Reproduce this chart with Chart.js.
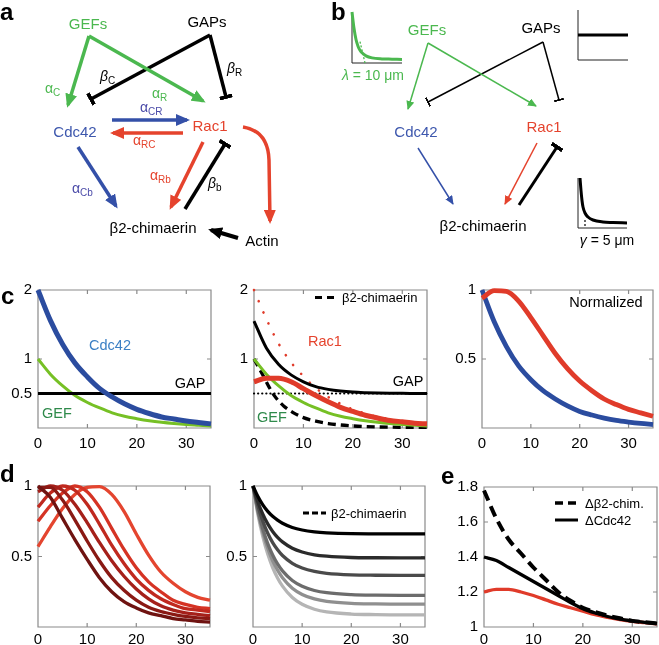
<!DOCTYPE html>
<html>
<head>
<meta charset="utf-8">
<script src="https://cdn.jsdelivr.net/npm/chart.js@4.4.0/dist/chart.umd.min.js"></script>
<style>
body { margin: 0; width: 659px; height: 645px; overflow: hidden; background: #fff; position: relative; font-family: "Liberation Sans", Arial, sans-serif; }
canvas { position: absolute; }
#fig { position: absolute; left: 0; top: 0; z-index: 2; }
</style>
</head>
<body>
<svg id="fig" width="659" height="645" font-family="Liberation Sans, Arial, sans-serif">
<defs>
<marker id="mgA" viewBox="0 0 14 12" refX="11" refY="6" markerWidth="14" markerHeight="12" markerUnits="userSpaceOnUse" orient="auto"><path d="M0,0L14,6L0,12z" fill="#4bb84f"/></marker>
<marker id="mbA" viewBox="0 0 14 12" refX="11" refY="6" markerWidth="14" markerHeight="12" markerUnits="userSpaceOnUse" orient="auto"><path d="M0,0L14,6L0,12z" fill="#3450a8"/></marker>
<marker id="mrA" viewBox="0 0 14 12" refX="11" refY="6" markerWidth="14" markerHeight="12" markerUnits="userSpaceOnUse" orient="auto"><path d="M0,0L14,6L0,12z" fill="#e5432d"/></marker>
<marker id="mkA" viewBox="0 0 14 12" refX="11" refY="6" markerWidth="14" markerHeight="12" markerUnits="userSpaceOnUse" orient="auto"><path d="M0,0L14,6L0,12z" fill="#000"/></marker>
<marker id="tA" viewBox="0 0 4 13" refX="2" refY="6.5" markerWidth="4" markerHeight="13" markerUnits="userSpaceOnUse" orient="auto"><rect x="0" y="0" width="4" height="13" fill="#000"/></marker>
<marker id="mgB" viewBox="0 0 9 8" refX="8" refY="4" markerWidth="9" markerHeight="8" markerUnits="userSpaceOnUse" orient="auto"><path d="M0,0L9,4L0,8z" fill="#4bb84f"/></marker>
<marker id="mbB" viewBox="0 0 9 8" refX="8" refY="4" markerWidth="9" markerHeight="8" markerUnits="userSpaceOnUse" orient="auto"><path d="M0,0L9,4L0,8z" fill="#3450a8"/></marker>
<marker id="mrB" viewBox="0 0 9 8" refX="8" refY="4" markerWidth="9" markerHeight="8" markerUnits="userSpaceOnUse" orient="auto"><path d="M0,0L9,4L0,8z" fill="#e5432d"/></marker>
<marker id="tB" viewBox="0 0 2 10" refX="1" refY="5" markerWidth="2" markerHeight="10" markerUnits="userSpaceOnUse" orient="auto"><rect x="0" y="0" width="2" height="10" fill="#000"/></marker>
</defs>

<g font-weight="bold" font-size="24">
<text x="0" y="20">a</text>
<text x="331" y="20">b</text>
<text x="1" y="304">c</text>
<text x="0" y="482">d</text>
<text x="441" y="484">e</text>
</g>

<!-- network a -->
<g fill="none" stroke-width="3.5">
<path d="M210,35 L91,99" stroke="#000" marker-end="url(#tA)"/>
<path d="M210,35 L226,97" stroke="#000" marker-end="url(#tA)"/>
<path d="M89,36 L68,105" stroke="#4bb84f" marker-end="url(#mgA)"/>
<path d="M89,36 L203,101" stroke="#4bb84f" marker-end="url(#mgA)"/>
<path d="M112,120 L187,120" stroke="#3450a8" marker-end="url(#mbA)"/>
<path d="M183,133 L113,133" stroke="#e5432d" marker-end="url(#mrA)"/>
<path d="M78,147 L116,206" stroke="#3450a8" marker-end="url(#mbA)"/>
<path d="M203,142 L171,207" stroke="#e5432d" marker-end="url(#mrA)"/>
<path d="M185,209 L225,144" stroke="#000" marker-end="url(#tA)"/>
<path d="M243,127 Q268,131 269,160 L270,221" stroke="#e5432d" marker-end="url(#mrA)"/>
<path d="M238,238 L211,230" stroke="#000" stroke-width="4" marker-end="url(#mkA)"/>
</g>
<g font-size="15" text-anchor="middle">
<text x="88" y="29" fill="#4bb84f">GEFs</text>
<text x="207" y="27">GAPs</text>
<text x="75" y="137" fill="#3d57ad">Cdc42</text>
<text x="210" y="131" fill="#e5432d">Rac1</text>
<text x="153" y="233">β2-chimaerin</text>
<text x="262" y="246">Actin</text>
</g>
<g font-size="14">
<text x="100" y="81"><tspan font-style="italic">β</tspan><tspan font-size="10" dy="3">C</tspan></text>
<text x="227" y="73"><tspan font-style="italic">β</tspan><tspan font-size="10" dy="3">R</tspan></text>
<text x="208" y="188"><tspan font-style="italic">β</tspan><tspan font-size="10" dy="3">b</tspan></text>
<text x="45" y="93" fill="#4bb84f">α<tspan font-size="10" dy="3">C</tspan></text>
<text x="152" y="98" fill="#4bb84f">α<tspan font-size="10" dy="3">R</tspan></text>
<text x="140" y="112" fill="#4a4aa8">α<tspan font-size="10" dy="3">CR</tspan></text>
<text x="133" y="145" fill="#e5432d">α<tspan font-size="10" dy="3">RC</tspan></text>
<text x="72" y="193" fill="#4a4aa8">α<tspan font-size="10" dy="3">Cb</tspan></text>
<text x="150" y="180" fill="#e5432d">α<tspan font-size="10" dy="3">Rb</tspan></text>
</g>

<!-- network b -->
<g fill="none" stroke-width="1.5">
<path d="M543,42 L428,102" stroke="#000" marker-end="url(#tB)"/>
<path d="M543,42 L559,100" stroke="#000" marker-end="url(#tB)"/>
<path d="M428,43 L408,109" stroke="#4bb84f" marker-end="url(#mgB)"/>
<path d="M428,43 L536,106" stroke="#4bb84f" marker-end="url(#mgB)"/>
<path d="M418,148 L453,204" stroke="#3450a8" marker-end="url(#mbB)"/>
<path d="M537,143 L505,204" stroke="#e5432d" marker-end="url(#mrB)"/>
<path d="M519,205 L557,147" stroke="#000" stroke-width="3" marker-end="url(#tA)"/>
</g>
<g font-size="15" text-anchor="middle">
<text x="427" y="35" fill="#4bb84f">GEFs</text>
<text x="541" y="33">GAPs</text>
<text x="416" y="137" fill="#3d57ad">Cdc42</text>
<text x="544" y="132" fill="#e5432d">Rac1</text>
<text x="483" y="231">β2-chimaerin</text>
</g>
<g font-size="14" text-anchor="middle">
<text x="373" y="80" fill="#4bb84f"><tspan font-style="italic">λ</tspan> = 10 μm</text>
<text x="607" y="245"><tspan font-style="italic">γ</tspan> = 5 μm</text>
</g>

<!-- panel labels and legends -->
<g font-size="14.5" text-anchor="middle">
<text x="110" y="350" fill="#3b7fc4">Cdc42</text>
<text x="190" y="388">GAP</text>
<text x="57" y="418" fill="#2f8a4b">GEF</text>
<text x="325" y="346" fill="#e5432d">Rac1</text>
<text x="408" y="386">GAP</text>
<text x="272" y="422" fill="#2f8a4b">GEF</text>
<text x="606" y="307">Normalized</text>
</g>
<g fill="none" stroke="#000">
<line x1="315" y1="297.5" x2="338" y2="297.5" stroke-width="3" stroke-dasharray="7,5"/>
<line x1="303" y1="513" x2="326" y2="513" stroke-width="3" stroke-dasharray="6,3"/>
<line x1="555" y1="503" x2="578" y2="503" stroke-width="3.5" stroke-dasharray="8,5"/>
<line x1="555" y1="520" x2="578" y2="520" stroke-width="3"/>
</g>
<g font-size="13">
<text x="342" y="302">β2-chimaerin</text>
<text x="331" y="518">β2-chimaerin</text>
<text x="585" y="508">Δβ2-chim.</text>
<text x="585" y="525">ΔCdc42</text>
</g>
</svg>

<script>
// distance axis (µm)
var xs = [0, 2.5, 5, 7.5, 10, 12.5, 15, 17.5, 20, 22.5, 25, 27.5, 30, 32.5, 35];
var xsFast = [0, 1, 2, 3, 4, 5, 6, 8, 10, 12.5, 15, 20, 25, 30, 35];
var xTicks = [0, 10, 20, 30];

// c, left
var cdc42C = [2.00, 1.56, 1.21, 0.94, 0.74, 0.57, 0.45, 0.35, 0.27, 0.21, 0.16, 0.13, 0.10, 0.08, 0.06];
var gefC = [1.00, 0.78, 0.61, 0.47, 0.37, 0.29, 0.22, 0.17, 0.135, 0.105, 0.082, 0.064, 0.05, 0.04, 0.03];
var gapC = [0.5, 0.5, 0.5, 0.5, 0.5, 0.5, 0.5, 0.5, 0.5, 0.5, 0.5, 0.5, 0.5, 0.5, 0.5];

// c, middle
var rac1Free = [2.00, 1.58, 1.22, 0.95, 0.75, 0.58, 0.45, 0.35, 0.27, 0.21, 0.16, 0.13, 0.10, 0.08, 0.06];
var gapTotal = [1.55, 1.16, 0.92, 0.77, 0.67, 0.60, 0.56, 0.535, 0.52, 0.512, 0.507, 0.504, 0.502, 0.501, 0.50];
var rac1C = [0.67, 0.72, 0.72, 0.67, 0.57, 0.47, 0.38, 0.30, 0.24, 0.185, 0.145, 0.11, 0.09, 0.07, 0.06];
var chimC = [1.0, 0.87, 0.74, 0.60, 0.48, 0.39, 0.32, 0.22, 0.15, 0.10, 0.065, 0.03, 0.015, 0.01, 0.008];

// c, right (normalized)
var rac1Norm = [0.94, 0.995, 0.99, 0.92, 0.80, 0.67, 0.54, 0.43, 0.34, 0.27, 0.21, 0.17, 0.135, 0.11, 0.085];
var cdc42Norm = [1.0, 0.77, 0.59, 0.45, 0.35, 0.27, 0.21, 0.16, 0.12, 0.094, 0.072, 0.055, 0.043, 0.033, 0.025];

// d, left: normalized Rac1 profiles
var d1a = [1.00, 0.92, 0.77, 0.62, 0.48, 0.35, 0.25, 0.18, 0.135, 0.10, 0.08, 0.06, 0.05, 0.04, 0.035];
var d1b = [0.99, 0.99, 0.90, 0.76, 0.61, 0.47, 0.35, 0.26, 0.19, 0.14, 0.11, 0.09, 0.075, 0.065, 0.06];
var d1c = [0.96, 1.00, 0.97, 0.87, 0.74, 0.60, 0.47, 0.36, 0.27, 0.20, 0.15, 0.12, 0.10, 0.09, 0.08];
var d1d = [0.85, 0.95, 1.00, 0.97, 0.87, 0.73, 0.58, 0.45, 0.34, 0.26, 0.20, 0.16, 0.13, 0.12, 0.11];
var d1e = [0.75, 0.86, 0.95, 1.00, 0.96, 0.85, 0.70, 0.55, 0.42, 0.32, 0.25, 0.19, 0.16, 0.14, 0.13];
var d1f = [0.57, 0.71, 0.84, 0.94, 0.99, 0.995, 0.94, 0.82, 0.66, 0.51, 0.39, 0.31, 0.25, 0.21, 0.19];
var redShades = ["#6f1311", "#8a1914", "#a5201a", "#c0291f", "#d53324", "#e4452f"];

// d, middle: b2-chimaerin profiles
var d2a = [1, 0.925, 0.866, 0.82, 0.785, 0.758, 0.736, 0.706, 0.688, 0.675, 0.668, 0.662, 0.661, 0.66, 0.66];
var d2b = [1, 0.887, 0.80, 0.731, 0.678, 0.636, 0.604, 0.559, 0.532, 0.512, 0.502, 0.493, 0.491, 0.49, 0.49];
var d2c = [1, 0.86, 0.751, 0.665, 0.599, 0.548, 0.507, 0.452, 0.418, 0.394, 0.381, 0.37, 0.367, 0.366, 0.366];
var d2d = [1, 0.829, 0.695, 0.591, 0.51, 0.447, 0.398, 0.33, 0.289, 0.259, 0.243, 0.23, 0.226, 0.225, 0.225];
var d2e = [1, 0.815, 0.671, 0.558, 0.47, 0.403, 0.349, 0.275, 0.231, 0.199, 0.182, 0.168, 0.164, 0.162, 0.162];
var d2f = [1, 0.798, 0.641, 0.517, 0.422, 0.348, 0.29, 0.209, 0.161, 0.126, 0.107, 0.092, 0.088, 0.086, 0.086];
var greyShades = ["#000000", "#2b2b2b", "#4a4a4a", "#6c6c6c", "#8f8f8f", "#b5b5b5"];

// e
var eChim = [1.78, 1.62, 1.50, 1.42, 1.34, 1.27, 1.20, 1.15, 1.11, 1.085, 1.065, 1.05, 1.035, 1.027, 1.02];
var eCdc42 = [1.40, 1.38, 1.34, 1.30, 1.26, 1.22, 1.18, 1.14, 1.105, 1.08, 1.06, 1.045, 1.035, 1.027, 1.02];
var eRac1 = [1.20, 1.215, 1.215, 1.20, 1.18, 1.155, 1.13, 1.11, 1.09, 1.07, 1.055, 1.042, 1.032, 1.025, 1.018];

// insets of b
var lamX = [0, 2, 4, 6, 8, 10, 14, 20, 30, 40, 50];
var lamY = [1, 0.68, 0.46, 0.33, 0.25, 0.2, 0.14, 0.1, 0.08, 0.075, 0.07];
var gapInX = [0, 50];
var gapInY = [0.5, 0.5];
var gamX = [2, 3, 4, 5, 7, 10, 15, 25, 35, 49];
var gamY = [1.0, 0.75, 0.55, 0.42, 0.3, 0.22, 0.16, 0.12, 0.11, 0.1];

var BLUE = "#2b4c9f", RED = "#e03b2a", LIME = "#76c025";

Chart.defaults.font.family = '"Liberation Sans", Arial, sans-serif';

function pts(xv, yv) {
	return xv.map(function (x, i) {
		return { x: x, y: yv[i] };
	});
}

function line(xv, yv, color, width, dash) {
	var dotted = dash && dash[0] < 1;
	return {
		data: pts(xv, yv),
		borderColor: color,
		borderWidth: width,
		borderDash: dash || [],
		borderCapStyle: dotted ? "round" : "butt",
		pointRadius: 0,
		cubicInterpolationMode: "monotone",
		fill: false,
		clip: false,
	};
}

// matlab style box with inward ticks
var boxPlugin = {
	id: "mbox",
	beforeDatasetsDraw: function (chart, args, o) {
		if (!o || !o.on) return;
		var a = chart.chartArea, ctx = chart.ctx;
		var sx = chart.scales.x, sy = chart.scales.y;
		ctx.save();
		ctx.lineWidth = o.lw || 1.2;
		ctx.strokeStyle = o.color || "#8a8a8a";
		ctx.beginPath();
		if (o.full) {
			ctx.rect(a.left, a.top, a.right - a.left, a.bottom - a.top);
			(o.xt || []).forEach(function (v) {
				var px = sx.getPixelForValue(v);
				ctx.moveTo(px, a.bottom); ctx.lineTo(px, a.bottom - 4);
				ctx.moveTo(px, a.top); ctx.lineTo(px, a.top + 4);
			});
			(o.yt || []).forEach(function (v) {
				var py = sy.getPixelForValue(v);
				ctx.moveTo(a.left, py); ctx.lineTo(a.left + 4, py);
				ctx.moveTo(a.right, py); ctx.lineTo(a.right - 4, py);
			});
		} else {
			ctx.moveTo(a.left, a.top); ctx.lineTo(a.left, a.bottom); ctx.lineTo(a.right, a.bottom);
		}
		ctx.stroke();
		ctx.restore();
	},
};

function panel(box, yMin, yMax, yTicks, datasets, padR, xPad) {
	var c = document.createElement("canvas");
	var w = box.r - box.l + 45 + padR, h = box.b - box.t + 40;
	c.width = w; c.height = h;
	c.style.left = (box.l - 45) + "px";
	c.style.top = (box.t - 12) + "px";
	document.body.appendChild(c);
	var tickFont = { size: 15 };
	return new Chart(c, {
		type: "line",
		data: { datasets: datasets },
		options: {
			responsive: false,
			animation: false,
			layout: { padding: { top: 12, right: padR, left: 0, bottom: 0 } },
			plugins: {
				legend: { display: false },
				tooltip: { enabled: false },
				mbox: { on: true, full: true, xt: xTicks, yt: yTicks },
			},
			scales: {
				x: {
					type: "linear", min: 0, max: 35,
					afterBuildTicks: function (s) { s.ticks = xTicks.map(function (v) { return { value: v }; }); },
					afterFit: function (s) { s.height = 28; },
					grid: { display: false, drawTicks: false },
					border: { display: false },
					ticks: { color: "#000", font: tickFont, padding: xPad, maxRotation: 0, autoSkip: false, callback: function (v) { return String(v); } },
				},
				y: {
					type: "linear", min: yMin, max: yMax,
					afterBuildTicks: function (s) { s.ticks = yTicks.map(function (v) { return { value: v }; }); },
					afterFit: function (s) { s.width = 45; },
					grid: { display: false, drawTicks: false },
					border: { display: false },
					ticks: { color: "#000", font: tickFont, padding: 6, autoSkip: false, callback: function (v) { return String(v); } },
				},
			},
		},
		plugins: [boxPlugin],
	});
}

function mini(box, xMax, datasets) {
	var c = document.createElement("canvas");
	c.width = box.r - box.l + 6; c.height = box.b - box.t + 6;
	c.style.left = (box.l - 3) + "px";
	c.style.top = (box.t - 3) + "px";
	document.body.appendChild(c);
	return new Chart(c, {
		type: "line",
		data: { datasets: datasets },
		options: {
			responsive: false,
			animation: false,
			layout: { padding: 3 },
			plugins: { legend: { display: false }, tooltip: { enabled: false }, mbox: { on: true, full: false, color: "#222", lw: 1 } },
			scales: {
				x: { type: "linear", display: false, min: 0, max: xMax },
				y: { type: "linear", display: false, min: 0, max: 1 },
			},
		},
		plugins: [boxPlugin],
	});
}

// c
panel({ l: 38, r: 211, t: 287, b: 428 }, 0, 2, [0.5, 1, 2], [
	line(xs, cdc42C, BLUE, 5),
	line(xs, gapC, "#000", 3.2),
	line(xs, gefC, LIME, 3),
], 8, 7);

panel({ l: 254, r: 427, t: 287, b: 428 }, 0, 2, [1, 2], [
	line(xs, rac1C, RED, 5),
	line(xs, gapTotal, "#000", 3),
	line(xs, gefC, LIME, 3),
	line(xsFast, chimC, "#000", 3.3, [8, 5]),
	line(xs, rac1Free, RED, 2.6, [0.1, 12]),
	line(xs, gapC, "#000", 2.2, [0.1, 4]),
], 8, 7);

panel({ l: 482, r: 653, t: 287, b: 428 }, 0, 1, [0.5, 1], [
	line(xs, rac1Norm, RED, 4.8),
	line(xs, cdc42Norm, BLUE, 4.8),
], 4, 7);

// d
var d1 = [d1a, d1b, d1c, d1d, d1e, d1f];
panel({ l: 38, r: 210, t: 483, b: 627 }, 0, 1, [0.5, 1], d1.map(function (ys, i) {
	return line(xs, ys, redShades[i], 3.3);
}), 8, 4);

var d2 = [d2a, d2b, d2c, d2d, d2e, d2f];
panel({ l: 253, r: 425, t: 483, b: 627 }, 0, 1, [0.5, 1], d2.map(function (ys, i) {
	return line(xsFast, ys, greyShades[i], 3.3);
}), 8, 4);

// e
panel({ l: 484, r: 657, t: 484, b: 627 }, 1, 1.8, [1, 1.2, 1.4, 1.6, 1.8], [
	line(xs, eChim, "#000", 4, [11, 6]),
	line(xs, eCdc42, "#000", 3.3),
	line(xs, eRac1, RED, 3.3),
], 2, 4);

// b insets
mini({ l: 352, r: 402, t: 12, b: 63 }, 50, [
	line(lamX, lamY, "#4bb84f", 3),
	line([8, 13], [0.42, 0], "#4bb84f", 1.3, [2, 2]),
]);
mini({ l: 578, r: 628, t: 10, b: 60 }, 50, [
	line(gapInX, gapInY, "#000", 3),
]);
mini({ l: 578, r: 627, t: 178, b: 228 }, 49, [
	line(gamX, gamY, "#000", 3),
	line([7, 7], [0.16, 0], "#000", 1.2, [2, 2]),
]);
</script>
</body>
</html>
